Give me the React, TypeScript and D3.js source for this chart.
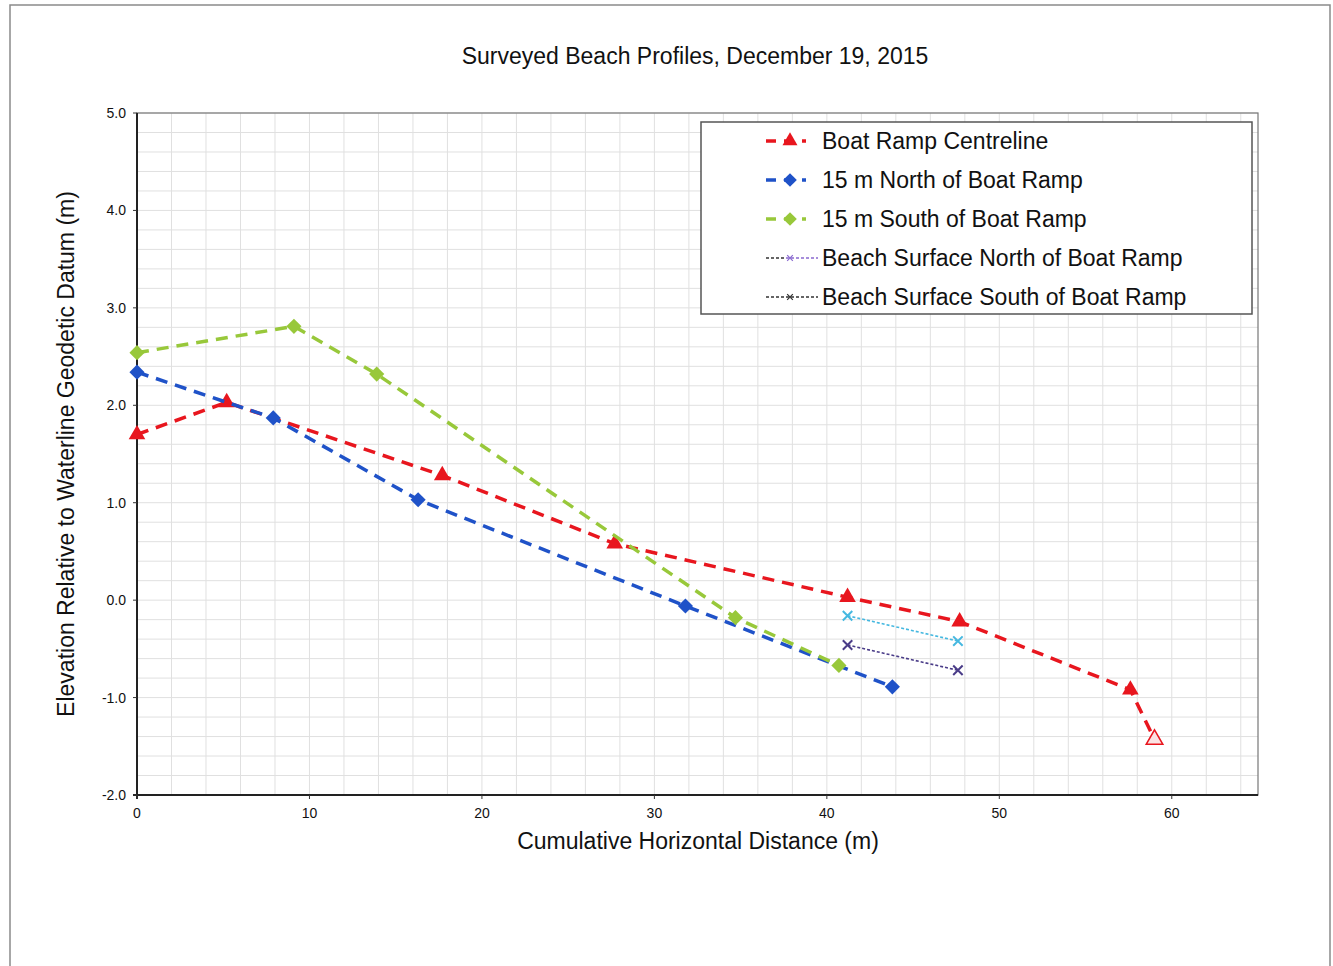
import React from 'react';
import * as d3 from 'd3';

// survey points (x = distance m, y = elevation m)
const rampX = [0, 5.2, 17.7, 27.7, 41.2, 47.7, 57.6, 59.0];
const rampY = [1.7, 2.03, 1.28, 0.58, 0.03, -0.22, -0.92, -1.43];

const northX = [0, 7.9, 16.3, 31.8, 43.8];
const northY = [2.34, 1.87, 1.03, -0.06, -0.89];

const southX = [0, 9.1, 13.9, 34.7, 40.7];
const southY = [2.54, 2.81, 2.32, -0.18, -0.67];

const beachNorthX = [41.2, 47.6];
const beachNorthY = [-0.16, -0.42];

const beachSouthX = [41.2, 47.6];
const beachSouthY = [-0.46, -0.72];

const xTicks = [0, 10, 20, 30, 40, 50, 60];
const yTicks = [5, 4, 3, 2, 1, 0, -1, -2];

const legendNames = [
  'Boat Ramp Centreline',
  '15 m North of Boat Ramp',
  '15 m South of Boat Ramp',
  'Beach Surface North of Boat Ramp',
  'Beach Surface South of Boat Ramp',
];

const FONT = '"Liberation Sans", Arial, sans-serif';

const zip = (xs: number[], ys: number[]) => xs.map((x, i) => [x, ys[i]] as [number, number]);

export default function App() {
  const W = 1333, H = 966;
  const left = 137, right = 1258, top = 113, bottom = 795;

  const x = d3.scaleLinear().domain([0, 65]).range([left, right]);
  const y = d3.scaleLinear().domain([-2, 5]).range([bottom, top]);

  const line = d3.line<[number, number]>().x(d => x(d[0])).y(d => y(d[1]));

  const tri = d3.symbol().type(d3.symbolTriangle).size(120)();
  const dia = d3.symbol().type(d3.symbolSquare).size(115)();
  const cross = d3.symbol().type(d3.symbolX).size(60)();

  const vGrid = d3.range(0, 65.01, 2);
  const hGrid = d3.range(-2, 5.001, 0.2);

  const series = [
    { pts: zip(rampX, rampY), color: '#e8161e', width: 3.5, dash: '12 8', marker: 'tri' },
    { pts: zip(northX, northY), color: '#1f52c8', width: 3.5, dash: '12 8', marker: 'dia' },
    { pts: zip(southX, southY), color: '#98c83a', width: 3.5, dash: '12 8', marker: 'dia' },
    { pts: zip(beachNorthX, beachNorthY), color: '#45b8e0', width: 1.6, dash: '3 2', marker: 'x' },
    { pts: zip(beachSouthX, beachSouthY), color: '#4a3c88', width: 1.6, dash: '3 2', marker: 'x' },
  ];

  const legendColors = ['#e8161e', '#1f52c8', '#98c83a', '#8a6ad0', '#333'];

  const markerPath = (m: string) => (m === 'tri' ? tri : m === 'dia' ? dia : cross) || '';
  const rot = (m: string) => (m === 'dia' ? ' rotate(45)' : '');

  return (
    <svg width={W} height={H} style={{ position: 'absolute', left: 0, top: 0, background: '#fff' }} fontFamily={FONT}>
      <rect x={10} y={5} width={1320} height={980} fill="#fff" stroke="#8a8a8a" strokeWidth={1.5} />
      <text x={695} y={64} textAnchor="middle" fontSize={23} fill="#111">
        Surveyed Beach Profiles, December 19, 2015
      </text>

      {/* grid */}
      <g stroke="#e0e0e0" strokeWidth={1}>
        {vGrid.map(v => <line key={'v' + v} x1={x(v)} x2={x(v)} y1={top} y2={bottom} />)}
        {hGrid.map(v => <line key={'h' + v} x1={left} x2={right} y1={y(v)} y2={y(v)} />)}
      </g>
      <rect x={left} y={top} width={right - left} height={bottom - top} fill="none" stroke="#777" strokeWidth={1.2} />
      <line x1={left} x2={left} y1={top} y2={bottom + 4} stroke="#222" strokeWidth={2} />
      <line x1={left - 4} x2={right} y1={bottom} y2={bottom} stroke="#222" strokeWidth={2} />

      {/* ticks */}
      {xTicks.map(t => (
        <g key={'xt' + t}>
          <line x1={x(t)} x2={x(t)} y1={bottom} y2={bottom + 4} stroke="#333" />
          <text x={x(t)} y={bottom + 23} textAnchor="middle" fontSize={14} fill="#111">{t}</text>
        </g>
      ))}
      {yTicks.map(t => (
        <g key={'yt' + t}>
          <line x1={left - 4} x2={left} y1={y(t)} y2={y(t)} stroke="#333" />
          <text x={left - 11} y={y(t) + 5} textAnchor="end" fontSize={14} fill="#111">{t.toFixed(1)}</text>
        </g>
      ))}

      <text x={698} y={849} textAnchor="middle" fontSize={23} fill="#111">Cumulative Horizontal Distance (m)</text>
      <text transform={`translate(74,${(top + bottom) / 2}) rotate(-90)`} textAnchor="middle" fontSize={23} fill="#111">
        Elevation Relative to Waterline Geodetic Datum (m)
      </text>

      {/* series */}
      {series.map((s, i) => (
        <g key={'s' + i}>
          <path d={line(s.pts) || ''} fill="none" stroke={s.color} strokeWidth={s.width} strokeDasharray={s.dash} />
          {s.pts.map((p, j) => {
            const last = i === 0 && j === s.pts.length - 1;
            return (
              <path key={j} d={markerPath(s.marker)} transform={`translate(${x(p[0])},${y(p[1])})${rot(s.marker)}`}
                fill={s.marker === 'x' ? 'none' : last ? '#fbe3e3' : s.color}
                stroke={s.color} strokeWidth={s.marker === 'x' ? 2 : last ? 1.5 : 0} />
            );
          })}
        </g>
      ))}

      {/* legend */}
      <rect x={701} y={122} width={551} height={192} fill="#fff" stroke="#555" strokeWidth={1.5} />
      {legendNames.map((n, i) => {
        const ly = 141 + i * 39;
        const thick = i < 3;
        const m = i === 0 ? 'tri' : i < 3 ? 'dia' : 'x';
        return (
          <g key={'lg' + i}>
            {thick ? (
              <line x1={766} x2={806} y1={ly} y2={ly} stroke={legendColors[i]} strokeWidth={3.5} strokeDasharray="10 8" />
            ) : (
              <g>
                <line x1={766} x2={786} y1={ly} y2={ly} stroke="#333" strokeWidth={1.3} strokeDasharray="3 2" />
                <line x1={786} x2={818} y1={ly} y2={ly} stroke={legendColors[i]} strokeWidth={1.3} strokeDasharray="3 2" />
              </g>
            )}
            <path d={markerPath(m)} transform={`translate(790,${ly}) scale(${i < 3 ? 0.9 : 0.6})${rot(m)}`}
              fill={i < 3 ? legendColors[i] : 'none'} stroke={legendColors[i]} strokeWidth={i < 3 ? 0 : 2} />
            <text x={822} y={ly + 8} fontSize={23} fill="#111">{n}</text>
          </g>
        );
      })}
    </svg>
  );
}
